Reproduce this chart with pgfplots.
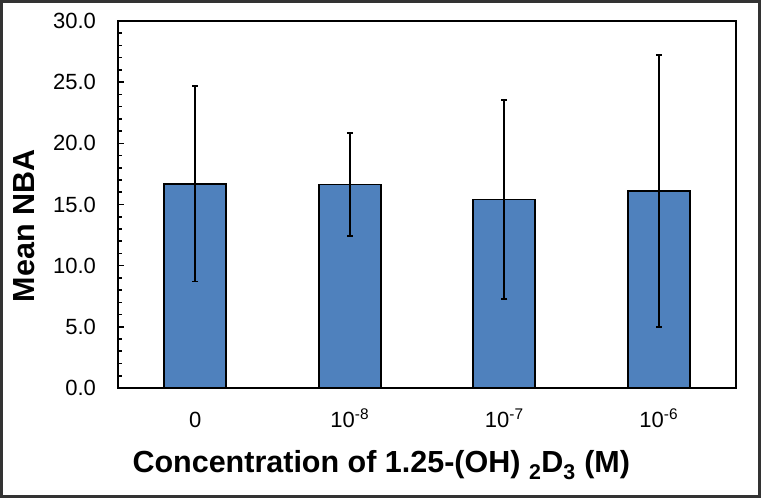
\documentclass[border=0pt]{standalone}
\usepackage{pgfplots}
\pgfplotsset{compat=1.18}
\usepackage{fontspec}
\setmainfont{Liberation Sans}
\definecolor{barblue}{RGB}{79,129,189}
\pgfplotstableread{
x  y     err
0  16.70 8.00
1  16.62 4.20
2  15.42 8.12
3  16.10 11.10
}\datatable
\begin{document}
\begin{tikzpicture}
\useasboundingbox (-118pt,-110pt) rectangle (643pt,388pt);
\draw[line width=2.5pt, color=black!80] (-116.5pt,-108.5pt) rectangle (641.5pt,386.5pt);
\begin{axis}[
  at={(0pt,0pt)}, anchor=south west,
  scale only axis, width=618pt, height=367pt,
  xmin=-0.5, xmax=3.5, ymin=0, ymax=30,
  line width=1.6pt,
  xtick={0,1,2,3},
  xticklabels={0, 10\textsuperscript{-8}, 10\textsuperscript{-7}, 10\textsuperscript{-6}},
  major x tick style={draw=none},
  ytick={0,5,...,30}, minor y tick num=4,
  ytick pos=left,
  tick align=inside,
  major tick length=6pt, minor tick length=4pt,
  tick style={line width=1.6pt, black},
  /pgf/number format/.cd, fixed, fixed zerofill, precision=1, assume math mode=true,
  /pgfplots/.cd,
  yticklabel style={font=\fontsize{22}{24}\selectfont, anchor=east, xshift=-18pt},
  xticklabel style={font=\fontsize{22}{24}\selectfont, anchor=base, yshift=-39pt},
  xlabel={Concentration of 1.25-(OH) \textsubscript{2}D\textsubscript{3} (M)},
  ylabel={Mean NBA},
  xlabel style={font=\fontsize{30.5}{32}\selectfont\bfseries, at={(axis description cs:0.426,-0.21)}, anchor=center},
  ylabel style={font=\fontsize{30.5}{32}\selectfont\bfseries, at={(axis description cs:-0.152,0.442)}, anchor=center},
]
\addplot[ybar, bar width=62pt, bar shift=0pt, fill=barblue, draw=black, line width=1.6pt,
  error bars/.cd, y dir=both, y explicit,
  error bar style={line width=1.8pt, black},
  error mark options={rotate=90, mark size=3pt, line width=1.8pt, black}]
  table[x=x, y=y, y error=err] {\datatable};
\end{axis}
\end{tikzpicture}
\end{document}
